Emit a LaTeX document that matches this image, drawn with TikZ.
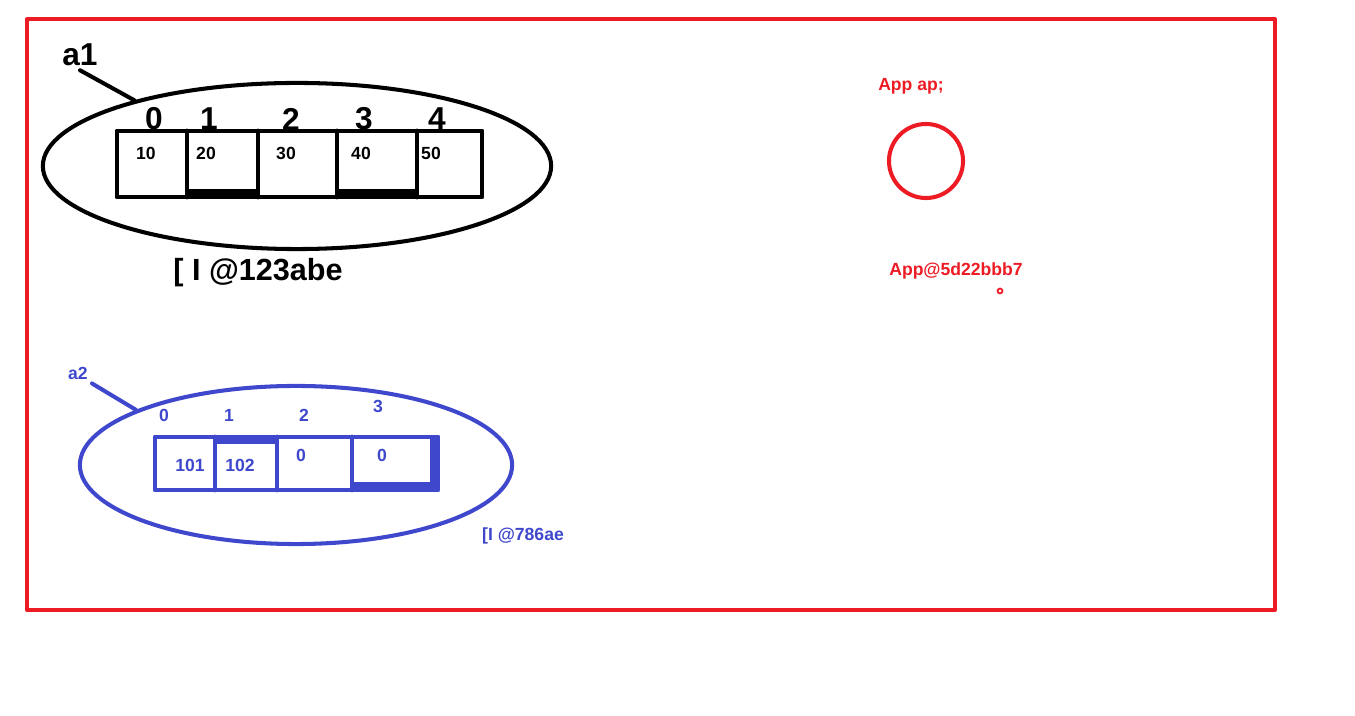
\documentclass[tikz,border=0pt]{standalone}
\usepackage{fontspec}
\setmainfont{Liberation Sans}
\usetikzlibrary{shapes.geometric}

\definecolor{paintred}{HTML}{ED1C24}
\definecolor{paintblue}{HTML}{3F48CC}

\tikzset{
  big/.style={font=\fontsize{9}{10}\selectfont\bfseries, inner sep=1pt},
  small/.style={font=\fontsize{5}{6}\selectfont\bfseries, inner sep=1pt},
  box/.style={line width=1.4pt},
  oval/.style={ellipse, draw, line width=1.15pt, inner sep=0pt},
}

\begin{document}
\begin{tikzpicture}[x=0.01cm, y=-0.01cm, line cap=round, line join=round]
			\useasboundingbox (0,0) rectangle (1355,716);
			\draw [color=paintred, line width=1.15pt, line cap=rect] (27,19) rectangle (1275,610);
			
			% first array, black
			\node [oval, minimum width=5.08cm, minimum height=1.66cm] (arr1) at (297,166) {};
			\node [big] (a1) at (80,55) {a1};
			\draw [line width=1.15pt] (a1.south) -- (arr1.158);
			
			\draw [box] (117,131) rectangle (482,197);
			\foreach \x in {187, 258, 337, 417}{
				\draw [box] (\x,131) -- (\x,197);}
			\fill (187,189) rectangle (258,197);
			\fill (337,189) rectangle (417,197);
			
			\foreach \i/\x in {0/154, 1/209, 2/291, 3/364, 4/437}{
				\node [big] (i\i) at (\x,119) {\i};}
			\foreach \v/\x in {10/146, 20/206, 30/286, 40/361, 50/431}{
				\node [small] (v\v) at (\x,153) {\v};}
			
			\node [big, font=\fontsize{8.7}{10}\selectfont\bfseries] (ref1) at (258,273) {[ I @123abe};
			
			% second array, blue
			\begin{scope}[color=paintblue]
				\node [oval, minimum width=4.32cm, minimum height=1.58cm] (arr2) at (296,465) {};
				\node [small] (a2) at (78,373) {a2};
				\draw [line width=1.15pt] (a2.south east) -- (arr2.161);
				
				\draw [box] (155,437) rectangle (438,490);
				\foreach \x in {215, 277, 352}{
					\draw [box] (\x,437) -- (\x,490);}
				\fill (215,437) rectangle (277,444);
				\fill (352,482) rectangle (438,490);
				\fill (430,437) rectangle (438,490);
				
				\foreach \i/\x/\y in {0/164/415, 1/229/415, 2/304/415, 3/378/406}{
					\node [small] (j\i) at (\x,\y) {\i};}
				\foreach \n/\v/\x/\y in {a/101/190/465, b/102/240/465, c/0/301/455, d/0/382/455}{
					\node [small] (w\n) at (\x,\y) {\v};}
				
				\node [small] (ref2) at (523,536) {[I @786ae};
			\end{scope}
			
			% object reference, red
			\begin{scope}[color=paintred]
				\node [small] (decl) at (911,86) {App ap;};
				\node [circle, draw, line width=1.15pt, minimum size=0.74cm, inner sep=0pt] (obj) at (926,161) {};
				\node [small] (ref3) at (956,271) {App@5d22bbb7};
				\node [circle, draw, line width=0.5pt, minimum size=0.05cm, inner sep=0pt] (dot) at (1000,291) {};
			\end{scope}
		\end{tikzpicture}
\end{document}
